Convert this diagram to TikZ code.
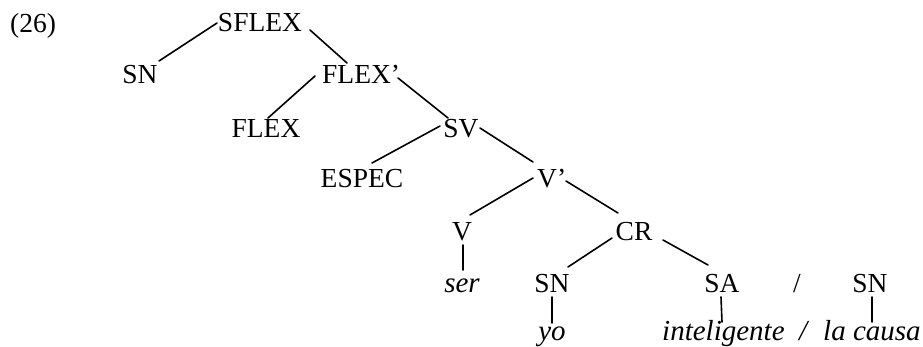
\documentclass[tikz,border=0pt]{standalone}
\usepackage{fontspec}
\setmainfont{Liberation Serif}
\begin{document}
\begin{tikzpicture}[x=1pt,y=-1pt,
  lbl/.style={inner sep=0pt, anchor=base, font=\fontsize{27.5}{33}\selectfont},
  lblw/.style={lbl, anchor=base west},
  word/.style={font=\fontsize{29}{35}\selectfont\itshape},
  edge/.style={line width=1.6pt, line cap=round}]
\useasboundingbox (0,0) rectangle (923,346);
% nodes
\node[lblw] (n26) at (10,32) {(26)};
\node[lbl] (sflex) at (260,31) {SFLEX};
\node[lbl] (sn1) at (140,83) {SN};
\node[lblw] (flexb) at (322,83) {FLEX'};
\node[lbl] (flex) at (266,137) {FLEX};
\node[lbl] (sv) at (461,137) {SV};
\node[lbl] (espec) at (362,187) {ESPEC};
\node[lblw] (vb) at (537,187) {V'};
\node[lbl] (v) at (462,240) {V};
\node[lbl] (cr) at (634,240) {CR};
\node[lbl,word] (ser) at (462,292) {ser};
\node[lbl] (sn2) at (552,292) {SN};
\node[lbl] (sa) at (722,292) {SA};
\node[lbl] (slash) at (797,292) {/};
\node[lbl] (sn3) at (870,292) {SN};
\node[lbl,word] (yo) at (552,340) {yo};
\node[lblw,word] (intel) at (662,340) {inteligente};
\node[lblw,word] (slashb) at (799,340) {/};
\node[lblw,word] (causa) at (823,340) {la causa};
% connectors
\draw[edge] ([shift={(-43,-8)}]sflex.base) -- ([shift={(19,-22)}]sn1.base);
\draw[edge] ([shift={(50,-1)}]sflex.base) -- ([shift={(25,-20)}]flexb.base west);
\draw[edge] ([shift={(-7,-7)}]flexb.base west) -- ([shift={(2,-19)}]flex.base);
\draw[edge] ([shift={(76,-5)}]flexb.base west) -- ([shift={(-13,-19)}]sv.base);
\draw[edge] ([shift={(-21,-11)}]sv.base) -- ([shift={(10,-24)}]espec.base);
\draw[edge] ([shift={(19,-9)}]sv.base) -- ([shift={(-4,-25)}]vb.base west);
\draw[edge] ([shift={(-4,-9)}]vb.base west) -- ([shift={(8,-25)}]v.base);
\draw[edge] ([shift={(29,-6)}]vb.base west) -- ([shift={(-16,-27)}]cr.base);
\draw[edge] ([shift={(1,5)}]v.base) -- ([shift={(1,-22)}]ser.base);
\draw[edge] ([shift={(-22,-2)}]cr.base) -- ([shift={(16,-25)}]sn2.base);
\draw[edge] ([shift={(29,0)}]cr.base) -- ([shift={(-14,-27)}]sa.base);
\draw[edge] ([shift={(0,5)}]sn2.base) -- ([shift={(0,-17)}]yo.base);
\draw[edge] ([shift={(-1,5)}]sa.base) -- ([shift={(60,-18)}]intel.base west);
\draw[edge] ([shift={(2,5)}]sn3.base) -- ([shift={(49,-18)}]causa.base west);
\end{tikzpicture}
\end{document}
